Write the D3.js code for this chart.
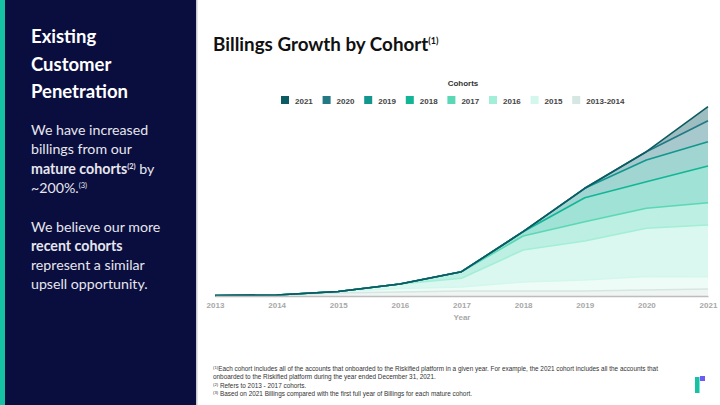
<!DOCTYPE html>
<html><head><meta charset="utf-8">
<script src="https://cdn.jsdelivr.net/npm/d3@7"></script>
<style>body{margin:0;background:#fff}svg{display:block}</style>
</head><body>
<svg id="c" width="720" height="405"></svg>
<script>
const years = [2013, 2014, 2015, 2016, 2017, 2018, 2019, 2020, 2021];
const cohorts = ["2013-2014", "2015", "2016", "2017", "2018", "2019", "2020", "2021"];
const legendOrder = ["2021", "2020", "2019", "2018", "2017", "2016", "2015", "2013-2014"];
const colors = ["#d6e6e2", "#d3f7ec", "#a3eed6", "#5ad8b6", "#12b697", "#12968e", "#237884", "#0c5a62"];
// billings by cohort (relative units), per year
const c1314 = [0.5, 1, 3, 4, 5, 5, 5, 6, 7];
const c2015 = [0, 0, 1.5, 3.5, 4, 9, 11, 13.5, 12.3];
const c2016 = [0, 0, 0, 4.5, 8.7, 32, 39, 48.2, 51.7];
const c2017 = [0, 0, 0, 0, 6.6, 14, 19.3, 20, 22.3];
const c2018 = [0, 0, 0, 0, 0, 4.3, 24, 26.6, 36.7];
const c2019 = [0, 0, 0, 0, 0, 0, 9.4, 21.7, 24.3];
const c2020 = [0, 0, 0, 0, 0, 0, 0, 8.3, 21];
const c2021 = [0, 0, 0, 0, 0, 0, 0, 0, 14];
const series = [c1314, c2015, c2016, c2017, c2018, c2019, c2020, c2021];
const footnotes = [
  ["(1)", "Each cohort includes all of the accounts that onboarded to the Riskified platform in a given year. For example, the 2021 cohort includes all the accounts that"],
  ["", "onboarded to the Riskified platform during the year ended December 31, 2021."],
  ["(2)", " Refers to 2013 - 2017 cohorts."],
  ["(3)", " Based on 2021 Billings compared with the first full year of Billings for each mature cohort."]
];

const svg = d3.select("#c");
// left panel
svg.append("rect").attr("x", 0).attr("y", 0).attr("width", 196).attr("height", 405).attr("fill", "#0a0e3e");
svg.append("rect").attr("x", 0).attr("y", 0).attr("width", 5).attr("height", 405).attr("fill", "#15c2a4");
svg.append("rect").attr("x", 196).attr("y", 0).attr("width", 1.5).attr("height", 405).attr("fill", "#c9c9d3");

const head = ["Existing", "Customer", "Penetration"];
head.forEach((t, i) => svg.append("text").attr("x", 31).attr("y", 43 + i * 27.5)
  .attr("font-family", "Lato").attr("font-weight", 700).attr("font-size", 18.5)
  .attr("fill", "#fff").text(t));

const body = [
  [["We have increased", 400]],
  [["billings from our", 400]],
  [["mature cohorts", 700], ["(2)", 700, true], [" by", 400]],
  [["~200%.", 400], ["(3)", 400, true]],
  null,
  [["We believe our more", 400]],
  [["recent cohorts", 700]],
  [["represent a similar", 400]],
  [["upsell opportunity.", 400]]
];
body.forEach((line, i) => {
  if (!line) return;
  const t = svg.append("text").attr("x", 31).attr("y", 135 + i * 19.3)
    .attr("font-family", "Lato").attr("font-size", 14.2).attr("fill", "#e6e6ee");
  let prevSup = false;
  line.forEach(([s, w, sup]) => {
    const ts = t.append("tspan").attr("font-weight", w).text(s);
    if (sup) ts.attr("font-size", 7.5).attr("dy", -5);
    else if (prevSup) ts.attr("dy", 5);
    prevSup = !!sup;
  });
});

// title
const title = svg.append("text").attr("x", 213).attr("y", 51)
  .attr("font-family", "Lato").attr("font-weight", 700).attr("font-size", 18.8).attr("fill", "#111");
title.append("tspan").text("Billings Growth by Cohort");
title.append("tspan").attr("font-size", 9).attr("dy", -7).text("(1)");

// chart
const x = d3.scaleLinear().domain([2013, 2021]).range([215, 708]);
const y = d3.scaleLinear().domain([0, 190]).range([296, 106]);

const table = years.map((yr, i) => {
  const o = { year: yr };
  cohorts.forEach((c, k) => o[c] = series[k][i]);
  return o;
});
const stacked = d3.stack().keys(cohorts)(table);

const area = d3.area().x(d => x(d.data.year)).y0(d => y(d[0])).y1(d => y(d[1]));
const line = d3.line().x(d => x(d.data.year)).y(d => y(d[1]));

const g = svg.append("g");
g.selectAll("path.a").data(stacked).join("path").attr("class", "a")
  .attr("d", area).attr("fill", (d, i) => colors[i]).attr("fill-opacity", 0.4);
g.selectAll("path.l").data(stacked).join("path").attr("class", "l")
  .attr("d", line).attr("fill", "none").attr("stroke", (d, i) => colors[i])
  .attr("stroke-width", 1.6).attr("stroke-linejoin", "round");

// x axis
const ax = svg.append("g").attr("transform", "translate(0,296)")
  .call(d3.axisBottom(x).tickValues(years).tickFormat(d3.format("d")).tickSize(0).tickPadding(6));
ax.select(".domain").attr("stroke", "#bdbdbd").attr("stroke-width", 1.5);
ax.selectAll("text").attr("font-family", "Liberation Sans").attr("font-weight", 700)
  .attr("font-size", 8).attr("fill", "#a8a8a8");
svg.append("text").attr("x", 462).attr("y", 320).attr("text-anchor", "middle")
  .attr("font-family", "Liberation Sans").attr("font-weight", 700).attr("font-size", 8)
  .attr("fill", "#a8a8a8").text("Year");

// legend
svg.append("text").attr("x", 463).attr("y", 86).attr("text-anchor", "middle")
  .attr("font-family", "Liberation Sans").attr("font-weight", 700).attr("font-size", 8)
  .attr("fill", "#333").text("Cohorts");
const lg = svg.append("g").selectAll("g").data(legendOrder).join("g")
  .attr("transform", (d, i) => `translate(${281 + i * 41.6},96)`);
lg.append("rect").attr("width", 8).attr("height", 8)
  .attr("fill", d => colors[cohorts.indexOf(d)]);
lg.append("text").attr("x", 14).attr("y", 7.5)
  .attr("font-family", "Liberation Sans").attr("font-weight", 700).attr("font-size", 8)
  .attr("fill", "#444").text(d => d);

// footnotes
footnotes.forEach(([sup, txt], i) => {
  const t = svg.append("text").attr("x", 213).attr("y", 371 + i * 8.3)
    .attr("font-family", "Liberation Sans").attr("font-size", 6.4).attr("fill", "#333");
  if (sup) t.append("tspan").attr("font-size", 4.2).attr("dy", -2).text(sup);
  t.append("tspan").attr("dy", sup ? 2 : 0).text(txt);
});

// logo
svg.append("rect").attr("x", 695).attr("y", 377).attr("width", 4.5).attr("height", 16).attr("fill", "#15c2a4");
svg.append("rect").attr("x", 700).attr("y", 376).attr("width", 5).attr("height", 5).attr("fill", "#6b5cf5");
</script>
</body></html>
